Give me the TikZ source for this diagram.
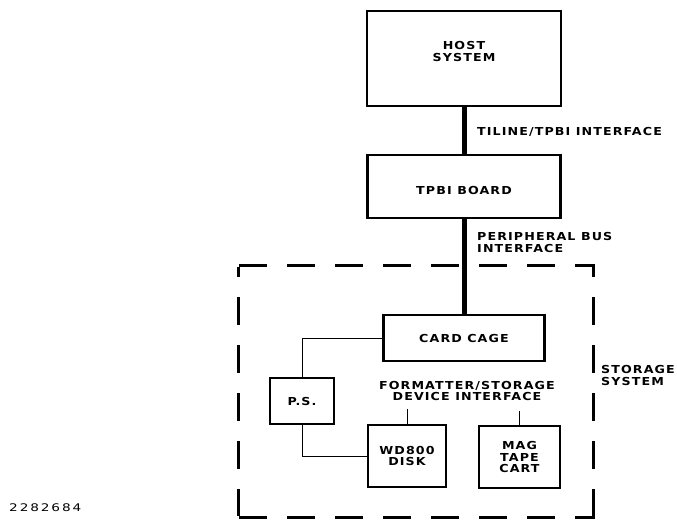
\documentclass[tikz,border=0pt]{standalone}
\usepackage{fontspec}
\setmainfont{DejaVu Sans Bold}[FakeStretch=1.15,LetterSpace=10]
\newfontfamily\numfont{DejaVu Sans}[FakeStretch=1.3,LetterSpace=18]
\begin{document}
\begin{tikzpicture}[x=1pt,y=-1pt,
  blk/.style={draw,line width=2.2pt,inner sep=0pt,align=center,font=\fontsize{11}{11.5}\selectfont},
  lbl/.style={inner sep=0pt,font=\fontsize{11}{11.5}\selectfont},
  bus/.style={line width=5pt},
  wire/.style={line width=1pt},
  dashh/.style={line width=3pt,dash pattern=on 28pt off 20pt,dash phase=45.5pt},
  dashv/.style={line width=3pt,dash pattern=on 28pt off 20pt,dash phase=18.5pt}]
\useasboundingbox (0,0) rectangle (677,521);
\node[blk,minimum width=194pt,minimum height=95pt] (host) at (464,58.5) {};
\node[lbl,align=center] (hostt) at ([yshift=7pt]host.center) {HOST\\SYSTEM};
\node[blk,minimum width=193pt,minimum height=63pt] (tpbi) at (464,186.5) {};
\node[lbl] (tpbit) at ([yshift=-4pt]tpbi.center) {TPBI BOARD};
\node[blk,minimum width=161pt,minimum height=46pt] (cage) at (464,338) {CARD CAGE};
\node[blk,minimum width=64pt,minimum height=46pt] (ps) at (302,401) {P.S.};
\node[blk,minimum width=78pt,minimum height=62pt] (wd) at (407,456) {WD800\\DISK};
\node[blk,minimum width=81pt,minimum height=62pt] (mag) at (519.5,457) {MAG\\TAPE\\CART};
\draw[bus] (host.south) -- (tpbi.north);
\draw[bus] (tpbi.south) -- (cage.north);
\draw[wire] (cage.west) -| (ps.north);
\draw[wire] (ps.south) |- (wd.west);
\coordinate (fa) at (407,409);
\coordinate (fb) at (519.5,411);
\draw[wire] (fa) -- (wd.north);
\draw[wire] (fb) -- (mag.north);
% dashed storage-system boundary
\coordinate (tl) at (238,266);
\coordinate (tr) at (593,266);
\coordinate (bl) at (238,517);
\coordinate (br) at (593,517);
\draw[dashh] ([xshift=-1.5pt]tl) -- ([xshift=1.5pt]tr);
\draw[dashh] ([xshift=-1.5pt]bl) -- ([xshift=1.5pt]br);
\draw[dashv] ([yshift=-1.5pt]tl) -- ([yshift=1.5pt]bl);
\draw[dashv] ([yshift=-1.5pt]tr) -- ([yshift=1.5pt]br);
\node[lbl,anchor=west] (l1) at (477,132) {TILINE/TPBI INTERFACE};
\node[lbl,anchor=west,align=left] (l2) at (477,242.5) {PERIPHERAL BUS\\INTERFACE};
\node[lbl,align=center] (l3) at (467,391) {FORMATTER/STORAGE\\DEVICE INTERFACE};
\node[lbl,anchor=west,align=left] (l4) at (601,375.5) {STORAGE\\SYSTEM};
\node[lbl,anchor=west,font=\numfont\fontsize{10.5}{11}\selectfont] (l5) at (9,508) {2282684};
\end{tikzpicture}
\end{document}
